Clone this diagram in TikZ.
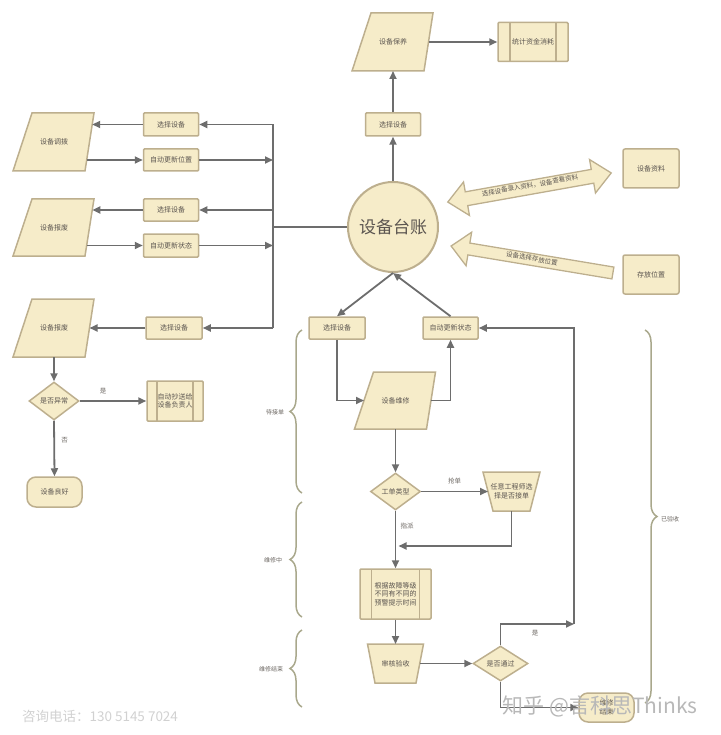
\documentclass[tikz,border=0pt]{standalone}
\usepackage{fontspec}
\setmainfont{Noto Sans CJK SC}
\usetikzlibrary{shapes.geometric,arrows.meta,decorations.pathreplacing,calc}
\definecolor{fc}{HTML}{F6ECC9}
\definecolor{bc}{HTML}{BDAF8E}
\definecolor{tc}{HTML}{5B5550}
\definecolor{lc}{HTML}{6D6D6D}
\definecolor{brc}{HTML}{A9A88C}
% #1 name, #2 cx, #3 cy, #4 top-left dx, #5 top-right dx, #6 bottom-right dx, #7 bottom-left dx, #8 half height, #9 text
\newcommand{\myshp}[9]{%
  \coordinate (#1-tl) at ({#2+(#4)},{#3-(#8)});
  \coordinate (#1-tr) at ({#2+(#5)},{#3-(#8)});
  \coordinate (#1-br) at ({#2+(#6)},{#3+(#8)});
  \coordinate (#1-bl) at ({#2+(#7)},{#3+(#8)});
  \coordinate (#1-n) at ({#2},{#3-(#8)});
  \coordinate (#1-s) at ({#2},{#3+(#8)});
  \coordinate (#1-e) at ($(#1-tr)!0.5!(#1-br)$);
  \coordinate (#1-w) at ($(#1-tl)!0.5!(#1-bl)$);
  \draw[shp] (#1-tl) -- (#1-tr) -- (#1-br) -- (#1-bl) -- cycle;
  \node[align=center, inner sep=0pt] (#1) at (#2,#3) {#9};}
\begin{document}
\begin{tikzpicture}[x=1pt,y=-1pt,
  every node/.style={font=\fontsize{7}{8.5}\selectfont, text=tc},
  shp/.style={draw=bc, fill=fc, line width=1.5pt, line join=miter},
  box/.style={rectangle, draw=bc, fill=fc, line width=1.5pt, minimum width=55pt, minimum height=23pt, inner sep=1pt, rounded corners=1pt, align=center},
  proc/.style={box, path picture={\draw[bc,line width=1.5pt] ([xshift=#1]path picture bounding box.north west) -- ([xshift=#1]path picture bounding box.south west) ([xshift=-#1]path picture bounding box.north east) -- ([xshift=-#1]path picture bounding box.south east);}},
  dia/.style={diamond, draw=bc, fill=fc, line width=1.5pt, inner sep=0pt, minimum width=50pt, minimum height=38pt},
  term/.style={box, rounded corners=9pt},
  ln/.style={draw=lc, line width=1.8pt},
  arr/.style={ln, -{Triangle[length=8pt,width=7pt]}},
  lbl/.style={font=\fontsize{6.5}{8}\selectfont, text=tc!90},
  brace/.style={draw=brc, line width=1.5pt, decorate, decoration={brace, amplitude=12pt}},
  blk/.style={draw=bc, fill=fc, line width=1.3pt, line join=miter}
]
\useasboundingbox (0,0) rectangle (720,735);

% ---------- top ----------
\myshp{bao}{393}{42}{-22}{40}{31}{-41}{29}{设备保养}
\node[proc=12pt, minimum width=70pt, minimum height=39pt] (tongji) at (533,42) {统计资金消耗};
\node[box] (xz0) at (393,124.5) {选择设备};
\node[circle, draw=bc, fill=fc, line width=2pt, minimum size=90pt, font=\fontsize{17}{20}\selectfont] (circ) at (393,227) {设备台账};

\node[box, minimum width=56pt, minimum height=39pt, rounded corners=2pt] (ziliao) at (651,168.5) {设备资料};
\node[box, minimum width=56pt, minimum height=39pt, rounded corners=2pt] (cunfang) at (651,274.5) {存放位置};

% block arrows
\begin{scope}[shift={(529.5,187.5)}, rotate=10.1]
  \draw[blk] (-83,0) -- (-64,-17) -- (-64,-7) -- (64,-7) -- (64,-17) -- (83,0) -- (64,17) -- (64,7) -- (-64,7) -- (-64,17) -- cycle;
\end{scope}
\node[rotate=10.1, font=\fontsize{6.5}{8}\selectfont, inner sep=0pt] (lblA) at (530,185.5) {选择设备录入资料，设备查看资料};
\begin{scope}[shift={(532,259.5)}, rotate=-9.46]
  \draw[blk] (-82,0) -- (-64,-17) -- (-64,-6) -- (82,-6) -- (82,6) -- (-64,6) -- (-64,17) -- cycle;
\end{scope}
\node[rotate=-9.46, font=\fontsize{6.5}{8}\selectfont, inner sep=0pt] (lblB) at (532,258.5) {设备选择存放位置};

\draw[arr] (circ.north) -- (xz0.south);
\draw[arr] (xz0.north) -- (bao-s);
\draw[arr] (bao-e) -- (tongji.west);

% ---------- left column ----------
\myshp{diao}{54}{142}{-22}{40}{31}{-41}{29}{设备调拨}
\node[box] (xz1) at (171,124.5) {选择设备};
\node[box, minimum height=22pt] (zd1) at (171,160) {自动更新位置};
\myshp{bf1}{54}{227.5}{-22}{40}{31}{-41}{28.5}{设备报废}
\node[box, minimum height=22pt] (xz2) at (171,210) {选择设备};
\node[box] (zd2) at (171,245.5) {自动更新状态};
\myshp{bf2}{54}{328}{-22}{40}{31}{-41}{29}{设备报废}
\node[box, minimum width=56pt, minimum height=22pt] (xz3) at (174,328) {选择设备};
\node[dia] (yc) at (54,401) {是否异常};
\node[proc=10pt, minimum width=56pt, minimum height=40pt] (cs) at (175,401) {自动抄送给\\设备负责人};
\node[term, minimum height=30pt] (lh) at (54.5,492) {设备良好};

\coordinate (t1) at (273,124.5);
\coordinate (t2) at (273,160);
\coordinate (t3) at (273,210);
\coordinate (t4) at (273,245.5);
\coordinate (t5) at (273,328);
\coordinate (tm) at (273,227);
\draw[ln] (t1) -- (t5);
\draw[ln] (circ.west) -- (tm);

\coordinate (d1) at ($(diao-tr)!0.2!(diao-br)$);
\coordinate (d2) at ($(diao-tr)!0.81!(diao-br)$);
\coordinate (e1) at ($(bf1-tr)!0.19!(bf1-br)$);
\coordinate (e2) at ($(bf1-tr)!0.81!(bf1-br)$);

\draw[arr] (t1) -- (xz1.east);
\draw[arr] (xz1.west) -- (xz1.west -| d1);
\draw[arr] (zd1.west -| d2) -- (zd1.west);
\draw[arr] (zd1.east) -- (t2);
\draw[arr] (t3) -- (xz2.east);
\draw[arr] (xz2.west) -- (xz2.west -| e1);
\draw[arr] (zd2.west -| e2) -- (zd2.west);
\draw[arr] (zd2.east) -- (t4);
\draw[arr] (t5) -- (xz3.east);
\draw[arr] (xz3.west) -- (bf2-e);
\draw[arr] (bf2-s) -- (yc.north);
\draw[arr] (yc.east) -- node[lbl, above=3pt, pos=0.35] (lshi1) {是} (cs.west);
\draw[arr] (yc.south) -- node[lbl, right=3pt, pos=0.35] (lfou) {否} (lh.north);

% ---------- maintenance flow ----------
\node[box, minimum width=56pt, minimum height=22pt] (xz4) at (337,328) {选择设备};
\node[box, minimum height=22pt] (zd3) at (450.5,328) {自动更新状态};
\myshp{wx}{395.5}{400.5}{-22}{40}{31}{-41}{28.5}{设备维修}
\node[dia, minimum height=37pt] (lx) at (395.5,491.5) {工单类型};
\myshp{ry}{511.5}{491.5}{-28.5}{28.5}{18.5}{-18.5}{19.5}{任意工程师选\\择是否接单}
\node[proc=11.5pt, minimum width=71pt, minimum height=50pt] (gj) at (395.5,594) {根据故障等级\\不同有不同的\\预警提示时间};
\myshp{sh}{395.5}{663.5}{-28}{28}{20.5}{-20.5}{19.5}{审核验收}
\node[dia, minimum width=55pt, minimum height=35pt] (tg) at (500.5,663.5) {是否通过};
\node[term, minimum height=29pt] (endn) at (606.5,707.5) {维修\\结束};

\draw[arr] (circ.south) -- (xz4.north);
\draw[arr] (zd3.north) -- (circ.south);
\draw[arr] (xz4.south) |- (wx-w);
\draw[arr] (wx-e) -| (zd3.south);
\draw[arr] (wx-s) -- (lx.north);
\draw[arr] (lx.east) -- node[lbl, above=3pt] (lqd) {抢单} (ry-w);
\coordinate (mj) at (398.5,546);
\draw[arr] (ry-s) |- (mj);
\draw[arr] (lx.south) -- (gj.north);
\node[lbl] (lzp) at (407,526) {指派};
\draw[arr] (gj.south) -- (sh-n);
\draw[arr] (sh-e) -- (tg.west);
\coordinate (c1) at (574,624);
\draw[arr] (tg.north) |- (c1);
\node[lbl] (lshi2) at (535,633) {是};
\draw[arr] (c1) |- (zd3.east);
\draw[arr] (tg.south) |- (endn.west);

% ---------- braces ----------
\draw[brace] (302,493) -- (302,330);
\node[lbl, font=\fontsize{6}{7}\selectfont] (b1) at (275,412) {待接单};
\draw[brace] (302,617) -- (302,502);
\node[lbl, font=\fontsize{6}{7}\selectfont] (b2) at (273,560) {维修中};
\draw[brace] (302,707) -- (302,630);
\node[lbl, font=\fontsize{6}{7}\selectfont] (b3) at (271,669) {维修结束};
\draw[brace] (645,330) -- (645,703);
\node[lbl, font=\fontsize{6}{7}\selectfont] (b4) at (670,519) {已验收};

% ---------- watermarks ----------
\node[font=\fontsize{21}{24}\selectfont, text=black!28, inner sep=0pt] (wm1) at (600,706) {知乎 @言科思Thinks};
\node[font=\fontsize{13.5}{15}\selectfont, text=black!18, inner sep=0pt] (wm2) at (100,716) {咨询电话：130 5145 7024};
\end{tikzpicture}
\end{document}
